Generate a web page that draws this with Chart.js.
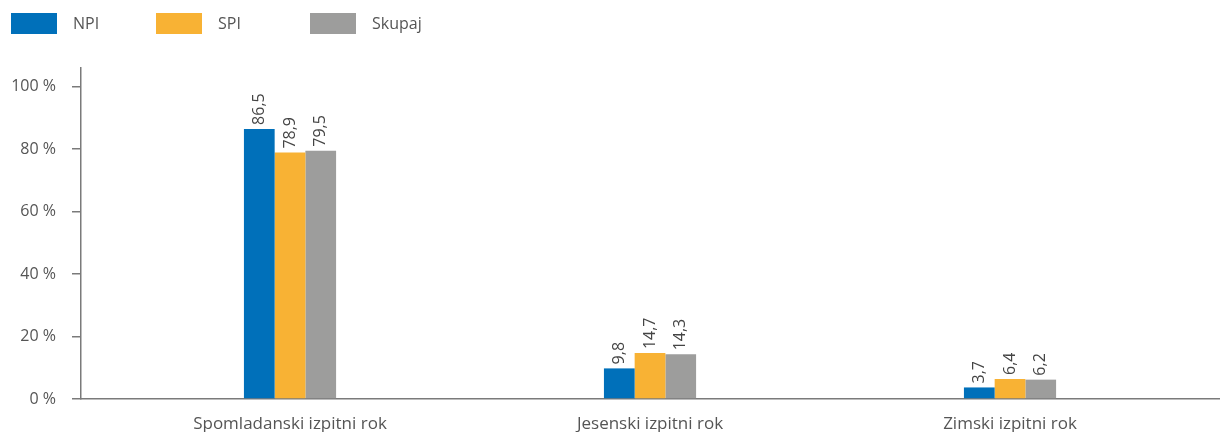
<!DOCTYPE html>
<html>
<head>
<meta charset="utf-8">
<script src="https://cdn.jsdelivr.net/npm/chart.js@4.4.1/dist/chart.umd.min.js"></script>
<style>
  html, body { margin: 0; padding: 0; background: #fff; }
  #wrap { width: 1220px; height: 432px; }
</style>
</head>
<body>
<div id="wrap"><canvas id="rokChart"></canvas></div>
<script>
const categories = ["Spomladanski izpitni rok", "Jesenski izpitni rok", "Zimski izpitni rok"];
const seriesNames = ["NPI", "SPI", "Skupaj"];
const npiValues = [86.5, 9.8, 3.7];
const spiValues = [78.9, 14.7, 6.4];
const skupajValues = [79.5, 14.3, 6.2];
const yTicks = [0, 20, 40, 60, 80, 100];

const colors = ["#0070ba", "#f8b234", "#9d9d9c"];
const font = "'Open Sans', 'Noto Sans', sans-serif";
const textColor = "#555555";

function toPoints(values) {
    return values.map((v, i) => ({ x: i, y: v }));
}

// legend drawn at fixed spots like the original
const legendPlugin = {
    id: "fixedLegend",
    afterDraw(chart) {
        const ctx = chart.ctx;
        const xs = [11, 156, 310];
        ctx.save();
        ctx.font = "16px " + font;
        ctx.textBaseline = "middle";
        chart.data.datasets.forEach((ds, i) => {
            ctx.fillStyle = ds.backgroundColor;
            ctx.fillRect(xs[i], 13, 46, 21);
            ctx.fillStyle = textColor;
            ctx.fillText(ds.label, xs[i] + 62, 24);
        });
        ctx.restore();
    }
};

// vertical value labels above the bars
const valueLabels = {
    id: "valueLabels",
    afterDatasetsDraw(chart) {
        const ctx = chart.ctx;
        ctx.save();
        ctx.font = "16px " + font;
        ctx.fillStyle = "#444444";
        ctx.textBaseline = "middle";
        ctx.textAlign = "left";
        chart.data.datasets.forEach((ds, i) => {
            chart.getDatasetMeta(i).data.forEach((bar, j) => {
                const txt = ds.data[j].y.toFixed(1).replace(".", ",");
                ctx.save();
                ctx.translate(bar.x, bar.y - 4);
                ctx.rotate(-Math.PI / 2);
                ctx.fillText(txt, 0, 0);
                ctx.restore();
            });
        });
        ctx.restore();
    }
};

const ctx = document.getElementById("rokChart").getContext("2d");

new Chart(ctx, {
    type: "bar",
    data: {
        datasets: [
            { label: seriesNames[0], data: toPoints(npiValues), backgroundColor: colors[0] },
            { label: seriesNames[1], data: toPoints(spiValues), backgroundColor: colors[1] },
            { label: seriesNames[2], data: toPoints(skupajValues), backgroundColor: colors[2] }
        ]
    },
    options: {
        responsive: true,
        maintainAspectRatio: false,
        animation: false,
        layout: { padding: { top: 68, left: 0, right: 0, bottom: 0 } },
        datasets: {
            bar: { categoryPercentage: 0.256, barPercentage: 1.0 }
        },
        plugins: {
            legend: { display: false },
            tooltip: { enabled: false }
        },
        scales: {
            x: {
                type: "linear",
                offset: false,
                min: -0.5806,
                max: 2.5833,
                afterBuildTicks(scale) {
                    scale.ticks = categories.map((c, i) => ({ value: i }));
                },
                afterFit(scale) { scale.height = 33; },
                ticks: {
                    autoSkip: false,
                    maxRotation: 0,
                    padding: 7,
                    color: textColor,
                    font: { family: font, size: 17 },
                    callback: (v) => categories[v]
                },
                grid: { display: false, offset: false },
                border: { display: true, color: "#7a7a7a", width: 1.5 }
            },
            y: {
                min: 0,
                max: 106,
                afterFit(scale) { scale.width = 81; },
                afterBuildTicks(scale) {
                    scale.ticks = yTicks.map(v => ({ value: v }));
                },
                ticks: {
                    padding: 16,
                    color: textColor,
                    font: { family: font, size: 16 },
                    callback: (v) => v + " %"
                },
                grid: {
                    drawOnChartArea: false,
                    drawTicks: true,
                    tickLength: 9,
                    color: "#7a7a7a",
                    lineWidth: 1.5
                },
                border: { display: true, color: "#7a7a7a", width: 1.5 }
            }
        }
    },
    plugins: [legendPlugin, valueLabels]
});
</script>
</body>
</html>
